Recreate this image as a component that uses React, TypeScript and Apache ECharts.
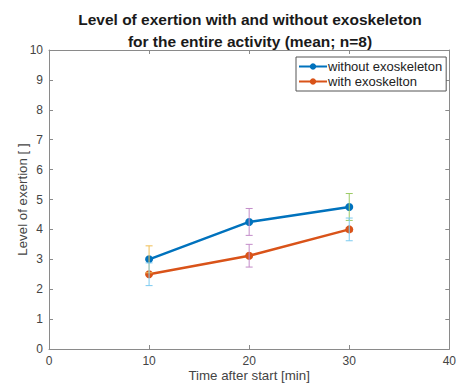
import React, { useEffect, useRef } from "react";
import * as echarts from "echarts";

const times = [10, 20, 30];
const withoutMeans = [3.0, 4.25, 4.75];
const withMeans = [2.5, 3.12, 4.0];
const withoutErr = [0.45, 0.45, 0.45];
const withErr = [0.38, 0.38, 0.38];
const withoutErrColors = ["#F0BE55", "#C38CC9", "#9CCB66"];
const withErrColors = ["#7CCBF0", "#C38CC9", "#7CCBF0"];
const xTicks = { min: 0, max: 40, interval: 10 };
const yTicks = { min: 0, max: 10, interval: 1 };

const FONT = "Liberation Sans, Arial, Helvetica, sans-serif";
const AXIS_COLOR = "#8a8a8a";
const LABEL_COLOR = "#444";

function errSeries(name: string, means: number[], errs: number[], colors: string[]) {
  return {
    name,
    type: "custom",
    xAxisIndex: 0,
    yAxisIndex: 0,
    z: 5,
    silent: true,
    data: times.map((t, i) => [t, means[i], errs[i]]),
    renderItem: (params: any, api: any) => {
      const x = api.value(0);
      const y = api.value(1);
      const e = api.value(2);
      const top = api.coord([x, y + e]);
      const bot = api.coord([x, y - e]);
      const w = 3.5;
      const stroke = colors[params.dataIndex];
      const style = { stroke, lineWidth: 1, fill: null };
      return {
        type: "group",
        children: [
          { type: "line", shape: { x1: top[0], y1: top[1], x2: bot[0], y2: bot[1] }, style },
          { type: "line", shape: { x1: top[0] - w, y1: top[1], x2: top[0] + w, y2: top[1] }, style },
          { type: "line", shape: { x1: bot[0] - w, y1: bot[1], x2: bot[0] + w, y2: bot[1] }, style },
        ],
      };
    },
  };
}

export default function App() {
  const ref = useRef<HTMLDivElement>(null);
  useEffect(() => {
    if (!ref.current) return;
    const chart = echarts.init(ref.current, null, { renderer: "svg" });
    const baseX = {
      type: "value",
      ...xTicks,
      splitLine: { show: false },
      axisLine: { show: true, onZero: false, lineStyle: { color: AXIS_COLOR, width: 1 } },
      axisTick: { show: true, inside: true, length: 4, lineStyle: { color: AXIS_COLOR } },
    };
    const baseY = {
      type: "value",
      ...yTicks,
      splitLine: { show: false },
      axisLine: { show: true, onZero: false, lineStyle: { color: AXIS_COLOR, width: 1 } },
      axisTick: { show: true, inside: true, length: 4, lineStyle: { color: AXIS_COLOR } },
    };
    chart.setOption({
      animation: false,
      backgroundColor: "#ffffff",
      textStyle: { fontFamily: FONT },
      title: {
        text: "Level of exertion with and without exoskeleton\nfor the entire activity (mean; n=8)",
        left: 245,
        top: 3,
        textAlign: "center",
        textStyle: { fontFamily: FONT, fontSize: 15.5, fontWeight: "bold", color: "#1a1a1a", lineHeight: 22 },
      },
      legend: {
        data: ["without exoskeleton", "with exoskelton"],
        orient: "vertical",
        left: 296,
        top: 57,
        itemWidth: 28,
        itemHeight: 8,
        itemGap: 2,
        padding: [3, 4, 3, 2],
        borderColor: "#555",
        borderWidth: 1,
        backgroundColor: "#fff",
        textStyle: { fontFamily: FONT, fontSize: 13, color: "#222", padding: [0, 0, 0, -4] },
      },
      grid: { left: 49, right: 7, top: 50, bottom: 38, containLabel: false },
      xAxis: [
        {
          ...baseX,
          position: "bottom",
          name: "Time after start [min]",
          nameLocation: "middle",
          nameGap: 20,
          nameMoveOverlap: false,
          nameTextStyle: { fontFamily: FONT, fontSize: 13.3, color: LABEL_COLOR },
          axisLabel: { fontFamily: FONT, fontSize: 12, color: LABEL_COLOR, margin: 6 },
        },
        { ...baseX, position: "top", axisLabel: { show: false } },
      ],
      yAxis: [
        {
          ...baseY,
          position: "left",
          name: "Level of exertion [ ]",
          nameLocation: "middle",
          nameGap: 20,
          nameMoveOverlap: false,
          nameTextStyle: { fontFamily: FONT, fontSize: 13.3, color: LABEL_COLOR },
          axisLabel: { fontFamily: FONT, fontSize: 12, color: LABEL_COLOR, margin: 6 },
        },
        { ...baseY, position: "right", axisLabel: { show: false } },
      ],
      series: [
        {
          name: "without exoskeleton",
          type: "line",
          xAxisIndex: 0,
          yAxisIndex: 0,
          data: times.map((t, i) => [t, withoutMeans[i]]),
          symbol: "circle",
          symbolSize: 8,
          color: "#0072BD",
          lineStyle: { width: 2.5, color: "#0072BD" },
          itemStyle: { color: "#0072BD" },
          z: 3,
        },
        {
          name: "with exoskelton",
          type: "line",
          xAxisIndex: 0,
          yAxisIndex: 0,
          data: times.map((t, i) => [t, withMeans[i]]),
          symbol: "circle",
          symbolSize: 8,
          color: "#D95319",
          lineStyle: { width: 2.5, color: "#D95319" },
          itemStyle: { color: "#D95319" },
          z: 3,
        },
        errSeries("err-without", withoutMeans, withoutErr, withoutErrColors),
        errSeries("err-with", withMeans, withErr, withErrColors),
      ],
    });
    return () => chart.dispose();
  }, []);
  return (
    <div
      ref={ref}
      style={{ position: "fixed", left: 0, top: 0, width: 459, height: 387, background: "#fff" }}
    />
  );
}
